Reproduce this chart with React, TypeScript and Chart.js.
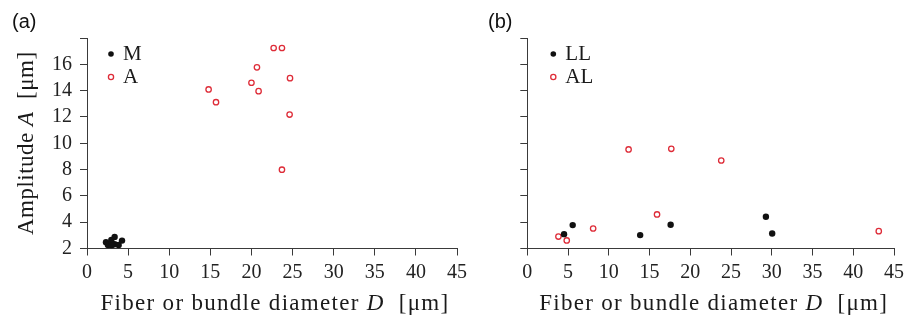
import React, { useEffect, useRef } from "react";
import { Chart, registerables } from "chart.js";

Chart.register(...registerables);

// ---- data ----
const xTickValues = [0, 5, 10, 15, 20, 25, 30, 35, 40, 45];
const yTickValues = [2, 4, 6, 8, 10, 12, 14, 16, 18];

// panel (a)
const mD = [2.31, 2.55, 2.96, 3.36, 3.36, 3.85, 4.26, 3.0];
const mA = [2.47, 2.27, 2.65, 2.88, 2.32, 2.27, 2.6, 2.25];
const aD = [14.79, 15.69, 20.0, 20.67, 20.87, 22.7, 23.71, 24.69, 24.64, 23.71];
const aA = [14.09, 13.12, 14.6, 15.77, 13.96, 17.24, 17.24, 14.95, 12.18, 7.99];

// panel (b)
const llD = [4.51, 5.57, 13.85, 17.59, 29.28, 30.05];
const llA = [3.09, 3.78, 3.02, 3.8, 4.41, 3.14];
const alD = [3.82, 4.84, 8.08, 12.43, 15.92, 17.67, 23.8, 43.13];
const alA = [2.91, 2.61, 3.52, 9.53, 4.59, 9.58, 8.69, 3.32];

const seriesNamesA = ["M", "A"];
const seriesNamesB = ["LL", "AL"];

// ---- styles ----
const RED = "rgb(222, 44, 56)";
const BLACK = "#111111";
const AXIS = "#3a3a3a";
const SERIF = "'Liberation Serif', 'Times New Roman', serif";

Chart.defaults.font.family = SERIF;
Chart.defaults.font.size = 20;

type Seg = { t: string; italic?: boolean };

const xTitleSegs: Seg[] = [{ t: "Fiber or bundle diameter " }, { t: "D", italic: true }, { t: "  [μm]" }];
const yTitleSegs: Seg[] = [{ t: "Amplitude " }, { t: "A", italic: true }, { t: "  [μm]" }];

function drawSegs(ctx: CanvasRenderingContext2D, segs: Seg[], cx: number, y: number, size: number, ls: number) {
  const fontOf = (s: Seg) => `${s.italic ? "italic " : ""}${size}px ${SERIF}`;
  (ctx as any).letterSpacing = `${ls}px`;
  let total = 0;
  const widths = segs.map((s) => {
    ctx.font = fontOf(s);
    const w = ctx.measureText(s.t).width;
    total += w;
    return w;
  });
  let x = cx - total / 2;
  ctx.textAlign = "left";
  ctx.textBaseline = "alphabetic";
  segs.forEach((s, i) => {
    ctx.font = fontOf(s);
    ctx.fillText(s.t, x, y);
    x += widths[i];
  });
  (ctx as any).letterSpacing = "0px";
}

type PanelCfg = {
  id: string;
  showYLabels: boolean;
  yAxisWidth: number;
  padRight: number;
  width: number;
  legendNames: string[];
  legendDx: number;
  datasets: { label: string; xs: number[]; ys: number[]; filled: boolean }[];
};

function makePlugin(cfg: PanelCfg) {
  return {
    id: "annot" + cfg.id,
    afterDraw(chart: any) {
      const { ctx, chartArea: ca } = chart;
      ctx.save();
      ctx.fillStyle = "#1a1a1a";
      drawSegs(ctx, xTitleSegs, (ca.left + ca.right) / 2 + 3, 310, 23, 1.3);
      if (cfg.showYLabels) {
        ctx.save();
        ctx.translate(33, (ca.top + ca.bottom) / 2);
        ctx.rotate(-Math.PI / 2);
        drawSegs(ctx, yTitleSegs, 0, 0, 23, 0.5);
        ctx.restore();
      }
      // legend
      cfg.legendNames.forEach((name, i) => {
        const mx = ca.left + cfg.legendDx;
        const my = ca.top + 16 + i * 23;
        ctx.beginPath();
        if (cfg.datasets[i].filled) {
          ctx.fillStyle = BLACK;
          ctx.arc(mx, my, 2.8, 0, Math.PI * 2);
          ctx.fill();
        } else {
          ctx.strokeStyle = RED;
          ctx.lineWidth = 1.3;
          ctx.arc(mx, my, 2.6, 0, Math.PI * 2);
          ctx.stroke();
        }
        ctx.fillStyle = "#1a1a1a";
        ctx.font = `21px ${SERIF}`;
        ctx.textAlign = "left";
        ctx.textBaseline = "alphabetic";
        ctx.fillText(name, mx + 12, my + 6);
      });
      ctx.restore();
    },
  };
}

const tickFont = { family: SERIF, size: 20, style: "normal" as const, weight: "normal" as const };

function Panel({ cfg, left }: { cfg: PanelCfg; left: number }) {
  const ref = useRef<HTMLCanvasElement>(null);
  useEffect(() => {
    const chart = new Chart(ref.current as HTMLCanvasElement, {
      type: "scatter",
      data: {
        datasets: cfg.datasets.map((d) => ({
          label: d.label,
          data: d.xs.map((x, i) => ({ x, y: d.ys[i] })),
          pointRadius: d.filled ? 3.2 : 2.7,
          pointHoverRadius: d.filled ? 3.2 : 2.7,
          pointBackgroundColor: d.filled ? BLACK : "rgba(255,255,255,0)",
          pointBorderColor: d.filled ? BLACK : RED,
          pointBorderWidth: d.filled ? 0 : 1.3,
          showLine: false,
        })),
      },
      options: {
        animation: false,
        responsive: false,
        devicePixelRatio: 1,
        font: { family: SERIF, size: 20 },
        layout: { padding: { top: 38, right: cfg.padRight, left: 0, bottom: 0 } },
        plugins: { legend: { display: false }, tooltip: { enabled: false }, title: { display: false } },
        scales: {
          x: {
            type: "linear",
            min: 0,
            max: 45,
            afterBuildTicks: (s: any) => {
              s.ticks = xTickValues.map((v) => ({ value: v }));
            },
            afterFit: (s: any) => {
              s.height = 75.5;
            },
            ticks: {
              autoSkip: false,
              maxRotation: 0,
              padding: 5,
              color: "#222",
              font: tickFont,
            },
            grid: { drawOnChartArea: false, drawTicks: true, tickLength: 7, color: AXIS, lineWidth: 1 },
            border: { display: true, color: AXIS, width: 1 },
          },
          y: {
            type: "linear",
            min: 2,
            max: 18,
            afterBuildTicks: (s: any) => {
              s.ticks = yTickValues.map((v) => ({ value: v }));
            },
            afterFit: (s: any) => {
              s.width = cfg.yAxisWidth;
            },
            ticks: {
              autoSkip: false,
              padding: 8,
              color: "#222",
              font: tickFont,
              callback: (v: any) => (cfg.showYLabels && v !== 18 ? String(v) : ""),
            },
            grid: { drawOnChartArea: false, drawTicks: true, tickLength: 7, color: AXIS, lineWidth: 1 },
            border: { display: true, color: AXIS, width: 1 },
          },
        },
      },
      plugins: [makePlugin(cfg)],
    } as any);
    return () => chart.destroy();
  }, []);
  return (
    <div style={{ position: "absolute", left, top: 0, width: cfg.width, height: 324 }}>
      <canvas ref={ref} width={cfg.width} height={324} style={{ display: "block" }} />
    </div>
  );
}

const cfgA: PanelCfg = {
  id: "a",
  showYLabels: true,
  yAxisWidth: 87,
  padRight: 18,
  width: 475,
  legendNames: seriesNamesA,
  legendDx: 24,
  datasets: [
    { label: seriesNamesA[0], xs: mD, ys: mA, filled: true },
    { label: seriesNamesA[1], xs: aD, ys: aA, filled: false },
  ],
};

const cfgB: PanelCfg = {
  id: "b",
  showYLabels: false,
  yAxisWidth: 52.3,
  padRight: 12.3,
  width: 434,
  legendNames: seriesNamesB,
  legendDx: 26,
  datasets: [
    { label: seriesNamesB[0], xs: llD, ys: llA, filled: true },
    { label: seriesNamesB[1], xs: alD, ys: alA, filled: false },
  ],
};

const panelLabel: React.CSSProperties = {
  position: "absolute",
  top: 9,
  fontFamily: "'Liberation Sans', Arial, sans-serif",
  fontSize: 20,
  lineHeight: "24px",
  color: "#111",
};

export default function App() {
  return (
    <div style={{ position: "fixed", left: 0, top: 0, width: 909, height: 324, background: "#fff", overflow: "hidden" }}>
      <Panel cfg={cfgA} left={0} />
      <Panel cfg={cfgB} left={475} />
      <div style={{ ...panelLabel, left: 12 }}>(a)</div>
      <div style={{ ...panelLabel, left: 488 }}>(b)</div>
    </div>
  );
}
